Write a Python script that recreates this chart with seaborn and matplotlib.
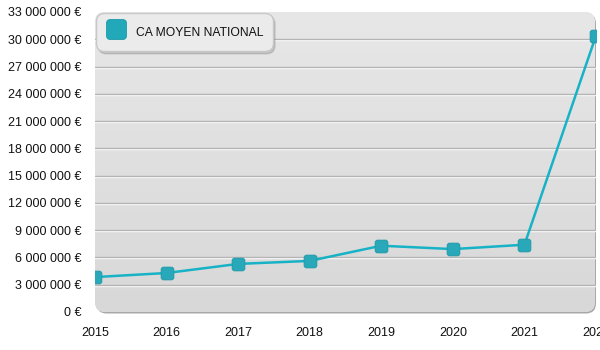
import numpy as np
import pandas as pd
import matplotlib
matplotlib.use("Agg")
import matplotlib.pyplot as plt
import seaborn as sns
from matplotlib.patches import FancyBboxPatch
from matplotlib.lines import Line2D
from matplotlib.transforms import ScaledTranslation
from matplotlib.ticker import FuncFormatter
from matplotlib.path import Path

# ---- data ----
years = [2015, 2016, 2017, 2018, 2019, 2020, 2021, 2022]
ca_moyen = [3840000, 4290000, 5290000, 5620000, 7290000, 6920000, 7400000, 30400000]
series_name = "CA MOYEN NATIONAL"
y_ticks = [0, 3000000, 6000000, 9000000, 12000000, 15000000, 18000000,
           21000000, 24000000, 27000000, 30000000, 33000000]

sns.set_style("white")
plt.rcParams['font.family'] = ['Liberation Sans', 'DejaVu Sans']
plt.rcParams['text.color'] = '#111111'

df = pd.DataFrame({"year": years, "value": ca_moyen})

# rounded-square marker
_rb = FancyBboxPatch((-0.5, -0.5), 1, 1, boxstyle="round,pad=0,rounding_size=0.2")
rsq = Path(_rb.get_path().vertices.copy(), _rb.get_path().codes)

W, H = 600, 350
fig = plt.figure(figsize=(6, 3.5), dpi=100)
left, right, top, bottom = 95, 596, 12, 312
rect = [left / W, 1 - bottom / H, (right - left) / W, (bottom - top) / H]

# background panel axes (pixel units)
bg = fig.add_axes(rect, zorder=0)
pw, ph = right - left, bottom - top
bg.set_xlim(0, pw)
bg.set_ylim(0, ph)
bg.axis("off")
shadow = FancyBboxPatch((1.5, -1.5), pw - 1.5, ph, boxstyle="round,pad=0,rounding_size=10",
                        facecolor="#a8a8a8", edgecolor="none", clip_on=False)
bg.add_patch(shadow)
panel = FancyBboxPatch((0, 0), pw - 1, ph, boxstyle="round,pad=0,rounding_size=10",
                       facecolor="#e0e0e0", edgecolor="none", clip_on=False)
bg.add_patch(panel)
grad = np.linspace(0, 1, 256).reshape(-1, 1)
im = bg.imshow(grad, extent=[0, pw - 1, 0, ph], origin="lower", aspect="auto",
               cmap=matplotlib.colors.LinearSegmentedColormap.from_list("g", ["#d8d8d8", "#e7e7e7"]),
               zorder=1)
im.set_clip_path(panel)

# main axes
ax = fig.add_axes(rect, zorder=1)
ax.patch.set_alpha(0)
for s in ax.spines.values():
    s.set_visible(False)

# grid lines with white highlight
off = ScaledTranslation(0, -1 / 100, fig.dpi_scale_trans)
for v in y_ticks[1:-1]:
    hl = ax.axhline(v, color="#ffffff", lw=1.0, zorder=1)
    hl.set_transform(ax.get_yaxis_transform() + off)
    ax.axhline(v, color="#b4b4b4", lw=1.0, zorder=2)

sns.lineplot(data=df, x="year", y="value", ax=ax, color="#18b2c6", lw=1.8,
             marker=rsq, markersize=9.2, markerfacecolor="#28a8b8",
             markeredgecolor="#1e98a8", markeredgewidth=0.6, zorder=5)

ax.set_xlim(years[0], years[-1])
ax.set_ylim(y_ticks[0], y_ticks[-1])
ax.set_xticks(years)
ax.set_yticks(y_ticks)
ax.yaxis.set_major_formatter(FuncFormatter(
    lambda v, p: "{:,.0f} €".format(v).replace(",", " ")))
ax.tick_params(axis="both", length=0, labelsize=9, colors="#111111")
ax.tick_params(axis="y", pad=10)
ax.tick_params(axis="x", pad=11)
ax.set_xlabel("")
ax.set_ylabel("")
ax.grid(False)

handle = Line2D([], [], linestyle="none", marker=rsq, markersize=14.4,
                markerfacecolor="#22a9b9", markeredgecolor="#1e98a8", markeredgewidth=0.6)
leg = ax.legend([handle], [series_name], loc="upper left", bbox_to_anchor=(0, 1),
                borderaxespad=0.08, fontsize=8.7, frameon=True, fancybox=True,
                shadow={'color': '#888888', 'alpha': 0.35, 'ox': 1.5, 'oy': -2},
                handlelength=1.66, handleheight=2.0, handletextpad=0.83, borderpad=0.8)
fr = leg.get_frame()
fr.set_boxstyle("round", pad=0, rounding_size=0.7)
fr.set_facecolor("#ebebeb")
fr.set_edgecolor("#c8c8c8")
fr.set_alpha(1)
leg.set_zorder(10)

fig.savefig("out.png", dpi=100)
